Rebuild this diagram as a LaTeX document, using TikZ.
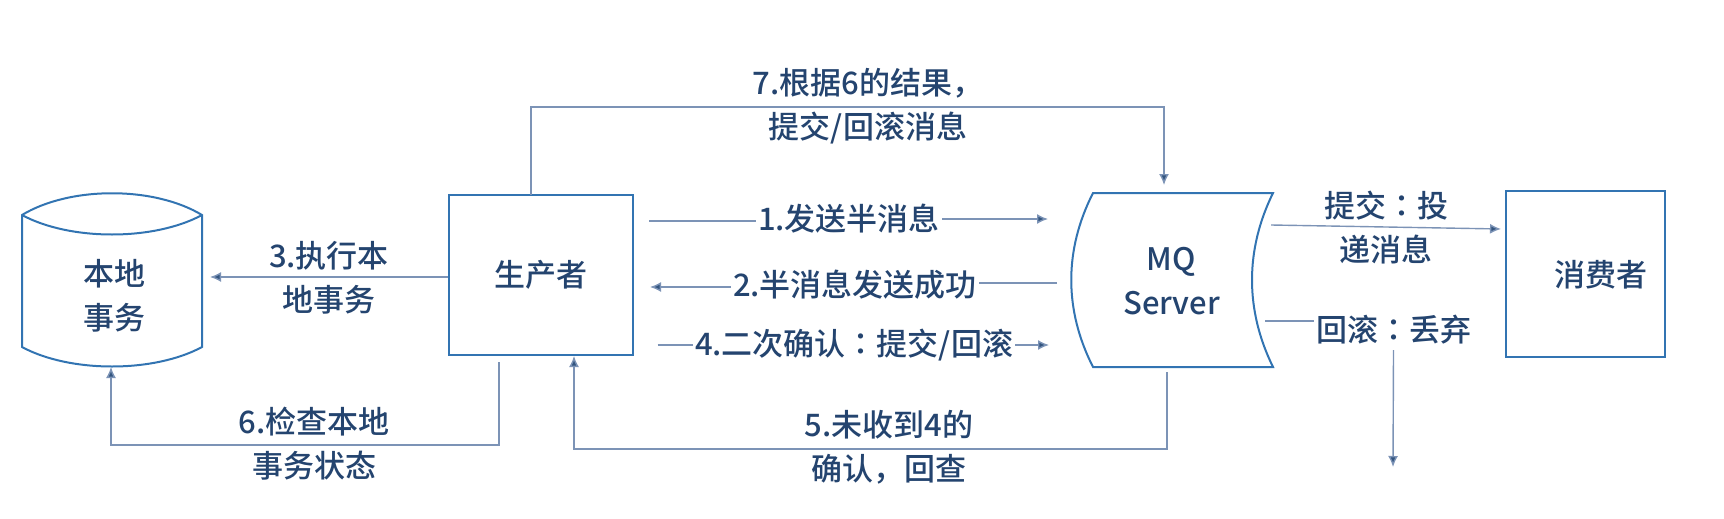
\documentclass[tikz,border=0pt]{standalone}
\usepackage{fontspec}
\setmainfont{Noto Sans CJK SC}[UprightFont=* Medium]
\newfontfamily\colonfont{Noto Sans CJK TC}[UprightFont=* Medium]
\usetikzlibrary{arrows.meta, positioning}
\definecolor{boxblue}{HTML}{3274B2}
\definecolor{lineblue}{HTML}{7C93B6}
\definecolor{tipblue}{HTML}{33557F}
\definecolor{textblue}{HTML}{24446F}
\newcommand{\fullcolon}{{\colonfont ：}}

\begin{document}
\begin{tikzpicture}[x=1pt, y=-1pt, >=Latex,
    box/.style={draw=boxblue, line width=2pt},
    txt/.style={text=textblue, font=\fontsize{31}{44}\selectfont, align=center, inner sep=2pt},
    conn/.style={draw=lineblue, line width=1.4pt},
    arr/.style={conn, -{Latex[length=11pt, width=10pt, fill=tipblue]}}]
  \useasboundingbox (0,0) rectangle (1724,519);

  % boxes
  \node[box, minimum width=184.5pt, minimum height=160pt] (prod) at (541,275) {};
  \node[txt] (prodtxt) at (541,275) {生产者};
  \node[box, minimum width=159pt, minimum height=166pt] (cons) at (1585.5,274) {};
  \node[txt] (constxt) at (1601,275) {消费者};

  % local transaction cylinder
  \draw[box] (22,215) .. controls (70,186) and (154,186) .. (202,215) -- (202,347)
    .. controls (154,373) and (70,373) .. (22,347) -- cycle;
  \draw[box] (22,215) .. controls (70,241) and (154,241) .. (202,215);
  \node[txt] (local) at (114,296) {本地\\事务};

  % MQ server
  \draw[box] (1093,193) -- (1273,193) .. controls (1245,250) and (1245,310) .. (1273,367)
    -- (1093,367) .. controls (1064,310) and (1064,250) .. (1093,193) -- cycle;
  \node[txt] (mq) at (1171.5,281) {MQ\\Server};

  % labels sitting on the lines
  \node[txt] (t1) at (849,219) {1.发送半消息};
  \node[txt] (t2) at (855,285) {2.半消息发送成功};
  \node[txt] (t3) at (329,278) {3.执行本\\地事务};
  \node[txt] (t4) at (854,345) {4.二次确认\fullcolon 提交/回滚};
  \node[txt] (t5) at (889,447) {5.未收到4的\\确认，回查};
  \node[txt] (t6) at (314,444) {6.检查本地\\事务状态};
  \node[txt] (t7) at (868,106.5) {7.根据6的结果，\\提交/回滚消息};
  \node[txt] (commit) at (1386,227.5) {提交\fullcolon 投\\递消息};
  \node[txt] (drop) at (1393.5,330) {回滚\fullcolon 丢弃};

  % free ends
  \coordinate (a1) at (649,221);
  \coordinate (b1) at (1048,219);
  \coordinate (a2) at (1057,283);
  \coordinate (b2) at (650,287);
  \coordinate (a3) at (448,277);
  \coordinate (b3) at (210,277);
  \coordinate (a4) at (657.5,345);
  \coordinate (b4) at (1049,345);
  \coordinate (a5) at (1167,372);
  \coordinate (b5) at (574,356);
  \coordinate (a6) at (499,362);
  \coordinate (b6) at (111,367);
  \coordinate (a7) at (531,195);
  \coordinate (b7) at (1164,185);
  \coordinate (a8) at (1271,225);
  \coordinate (b8) at (1501,229);
  \coordinate (a9) at (1265,321);
  \coordinate (b9) at (1393,467);

  \draw[conn] (a1) -- (t1.west |- a1);
  \draw[arr] (t1.east |- b1) -- (b1);
  \draw[conn] (a2) -- (t2.east |- a2);
  \draw[arr] (t2.west |- b2) -- (b2);
  \draw[arr] (a3) -- (b3);
  \draw[conn] (a4) -- (t4.west |- a4);
  \draw[arr] (t4.east |- b4) -- (b4);
  \draw[arr] (a5) -- ++(0,77) -| (b5);
  \draw[arr] (a6) -- ++(0,83) -| (b6);
  \draw[arr] (a7) -- ++(0,-88) -| (b7);
  \draw[arr] (a8) -- (b8);
  \draw[conn] (a9) -- (drop.west |- a9);
  \draw[arr] (drop.south |- 0,350) -- (b9);
\end{tikzpicture}
\end{document}
